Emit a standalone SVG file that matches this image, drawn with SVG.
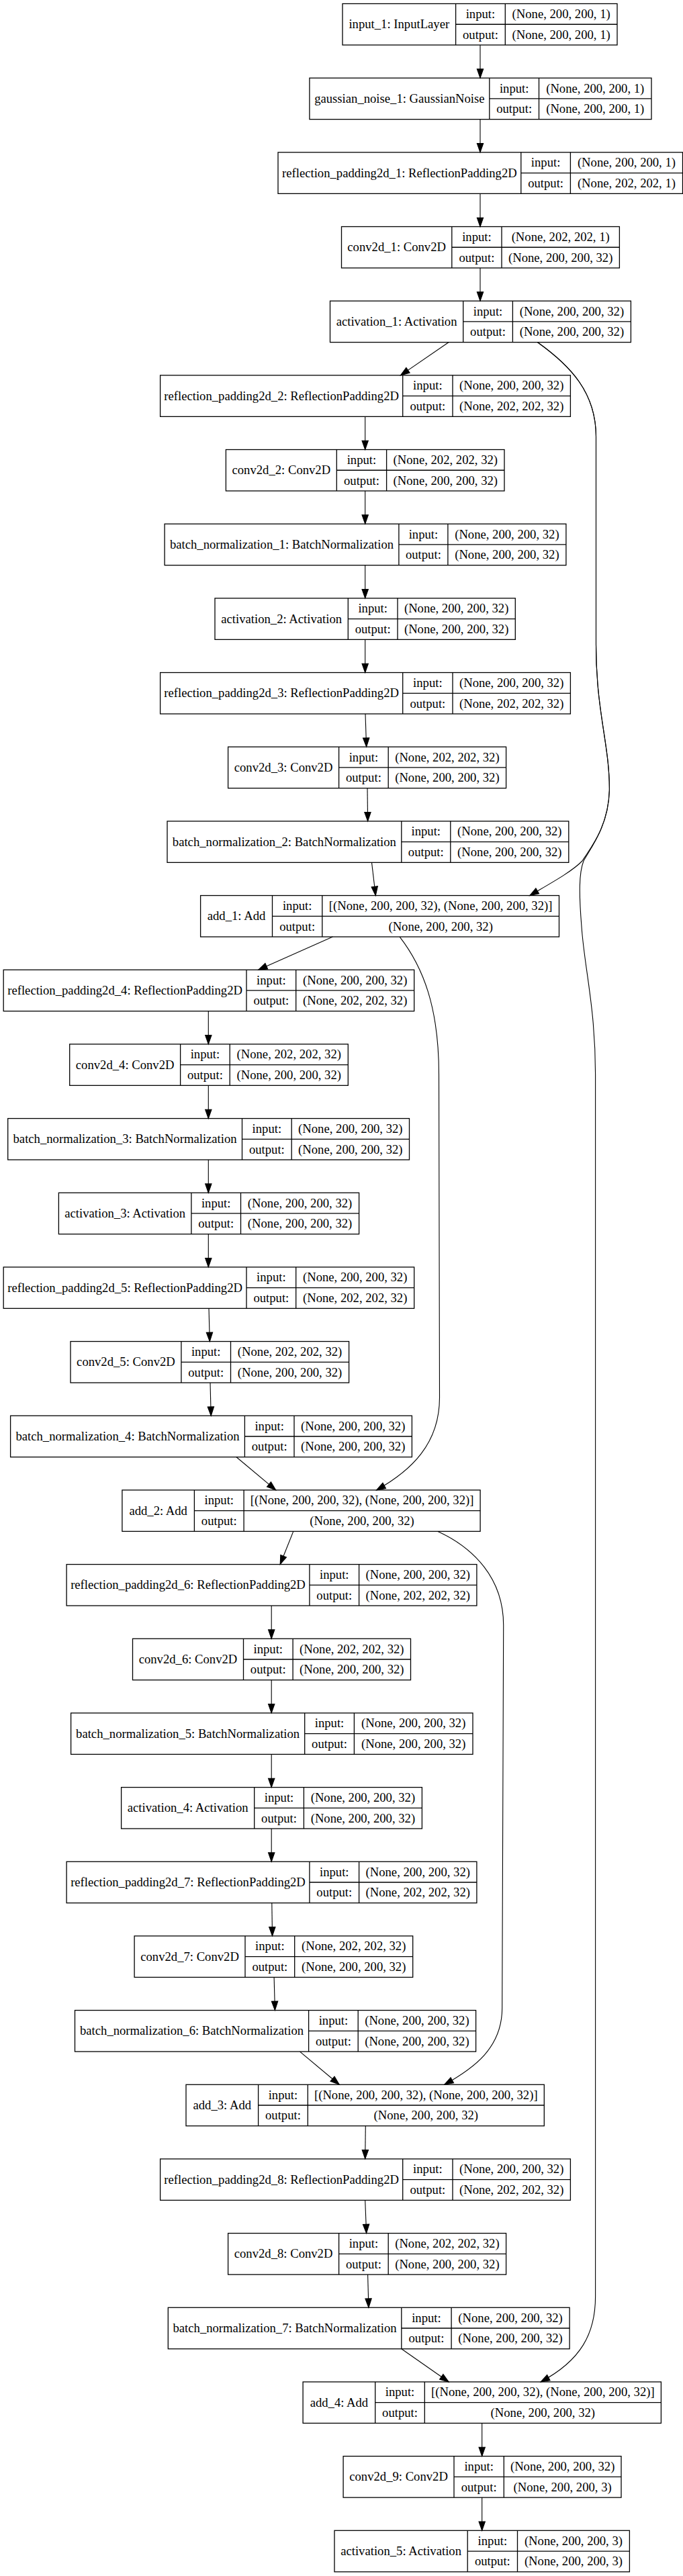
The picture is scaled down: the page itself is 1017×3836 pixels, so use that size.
<svg xmlns="http://www.w3.org/2000/svg" width="1017" height="3836" viewBox="0 0 1017 3836">
<style>
.n rect{fill:none;stroke:#000;stroke-width:1.3}
.n path{fill:none;stroke:#000;stroke-width:1.3}
.n text{font-family:"Liberation Serif","Times New Roman",serif;font-size:18.67px;text-anchor:middle;fill:#000}
#edges path{fill:none;stroke:#000;stroke-width:1.1;marker-end:url(#ah)}
</style>
<defs>
<marker id="ah" markerUnits="userSpaceOnUse" markerWidth="16" markerHeight="12" refX="13.33" refY="4.67" orient="auto" overflow="visible">
<path d="M0,0 L13.33,4.67 L0,9.33 Z" fill="#000" stroke="#000" stroke-width="1.1"/>
</marker>
</defs>
<rect x="0" y="0" width="1017" height="3836" fill="#fff"/>
<g id="edges">
<path d="M715,67 L715,116.17"/>
<path d="M715,177.67 L715,226.84"/>
<path d="M715,288.34 L715,337.51"/>
<path d="M715,399.01 L715,448.18"/>
<path d="M668,509.68 L596.5,558.85"/>
<path d="M800.5,509.68 C850,545 887.5,585 887.5,650 L887.5,960 C887.5,1060 908,1110 907.4,1177 C906,1230 880,1262 867,1282 C852,1298 815,1318 788.8,1333.54"/>
<path d="M800.5,509.68 C850,545 887.5,585 887.5,650 L887.5,960 C887.5,1060 908,1110 907.4,1177 C906,1230 880,1262 869,1282 C862,1300 862,1330 866,1380 C870,1440 886.6,1500 886.6,1600 L886.6,3420 C886.6,3475 865,3515 805.1,3546.94"/>
<path d="M543.7,620.35 L543.7,669.52"/>
<path d="M543.7,731.02 L543.7,780.19"/>
<path d="M543.7,841.69 L543.7,890.86"/>
<path d="M543.7,952.36 L543.7,1001.53"/>
<path d="M544,1063.03 L545.6,1112.2"/>
<path d="M547,1173.7 L547.6,1222.87"/>
<path d="M553.5,1284.37 L559.3,1333.54"/>
<path d="M495.4,1395.04 L384.6,1444.21"/>
<path d="M595.2,1395.04 C630,1440 653.5,1500 653.5,1600 L654.5,2080 C655,2150 612,2190 560.6,2218.9"/>
<path d="M310.3,1505.71 L310.3,1554.88"/>
<path d="M310.3,1616.38 L310.3,1665.55"/>
<path d="M310.3,1727.05 L310.3,1776.22"/>
<path d="M310.3,1837.72 L310.3,1886.89"/>
<path d="M311,1948.39 L312.3,1997.56"/>
<path d="M313,2059.06 L314.2,2108.23"/>
<path d="M352,2169.73 L410.7,2218.9"/>
<path d="M436.8,2280.4 L417.2,2329.57"/>
<path d="M651.9,2280.4 C705,2305 749.7,2350 749.7,2420 L747.7,2990 C747.7,3050 705,3080 661.7,3104.26"/>
<path d="M404.2,2391.07 L404.2,2440.24"/>
<path d="M404.2,2501.74 L404.2,2550.91"/>
<path d="M404.2,2612.41 L404.2,2661.58"/>
<path d="M404.2,2723.08 L404.2,2772.25"/>
<path d="M404.8,2833.75 L405.5,2882.92"/>
<path d="M408.1,2944.42 L409.4,2993.59"/>
<path d="M446.5,3055.09 L505.2,3104.26"/>
<path d="M544.3,3165.76 L543.7,3214.93"/>
<path d="M543.7,3276.43 L545.6,3325.6"/>
<path d="M547.6,3387.1 L548.9,3436.27"/>
<path d="M597.8,3497.77 L668.2,3546.94"/>
<path d="M717.7,3608.44 L717.7,3657.61"/>
<path d="M717.7,3719.11 L717.7,3768.28"/>
</g>

<g id="input_1" class="n" transform="translate(0,5.5)">
<rect x="510" y="0" width="409" height="61.5"/>
<path d="M678.6,0V61.5M752.3,0V61.5M678.6,30.75H919"/>
<text x="594.3" y="36.75">input_1: InputLayer</text>
<text x="715.45" y="21.4">input:</text><text x="715.45" y="52.1">output:</text>
<text x="835.65" y="21.4">(None, 200, 200, 1)</text><text x="835.65" y="52.1">(None, 200, 200, 1)</text>
</g>

<g id="gaussian_noise_1" class="n" transform="translate(0,116.17)">
<rect x="460.9" y="0" width="509.1" height="61.5"/>
<path d="M728.8,0V61.5M802.5,0V61.5M728.8,30.75H970"/>
<text x="594.85" y="36.75">gaussian_noise_1: GaussianNoise</text>
<text x="765.65" y="21.4">input:</text><text x="765.65" y="52.1">output:</text>
<text x="886.25" y="21.4">(None, 200, 200, 1)</text><text x="886.25" y="52.1">(None, 200, 200, 1)</text>
</g>

<g id="reflection_padding2d_1" class="n" transform="translate(0,226.84)">
<rect x="414" y="0" width="602.5" height="61.5"/>
<path d="M775.8,0V61.5M849.4,0V61.5M775.8,30.75H1016.5"/>
<text x="594.9" y="36.75">reflection_padding2d_1: ReflectionPadding2D</text>
<text x="812.6" y="21.4">input:</text><text x="812.6" y="52.1">output:</text>
<text x="932.95" y="21.4">(None, 200, 200, 1)</text><text x="932.95" y="52.1">(None, 202, 202, 1)</text>
</g>

<g id="conv2d_1" class="n" transform="translate(0,337.51)">
<rect x="508.5" y="0" width="413.9" height="61.5"/>
<path d="M672.8,0V61.5M747,0V61.5M672.8,30.75H922.4"/>
<text x="590.65" y="36.75">conv2d_1: Conv2D</text>
<text x="709.9" y="21.4">input:</text><text x="709.9" y="52.1">output:</text>
<text x="834.7" y="21.4">(None, 202, 202, 1)</text><text x="834.7" y="52.1">(None, 200, 200, 32)</text>
</g>

<g id="activation_1" class="n" transform="translate(0,448.18)">
<rect x="491.5" y="0" width="447.9" height="61.5"/>
<path d="M689.7,0V61.5M763.4,0V61.5M689.7,30.75H939.4"/>
<text x="590.6" y="36.75">activation_1: Activation</text>
<text x="726.55" y="21.4">input:</text><text x="726.55" y="52.1">output:</text>
<text x="851.4" y="21.4">(None, 200, 200, 32)</text><text x="851.4" y="52.1">(None, 200, 200, 32)</text>
</g>

<g id="reflection_padding2d_2" class="n" transform="translate(0,558.85)">
<rect x="238.6" y="0" width="610.8" height="61.5"/>
<path d="M599.7,0V61.5M674,0V61.5M599.7,30.75H849.4"/>
<text x="419.15" y="36.75">reflection_padding2d_2: ReflectionPadding2D</text>
<text x="636.85" y="21.4">input:</text><text x="636.85" y="52.1">output:</text>
<text x="761.7" y="21.4">(None, 200, 200, 32)</text><text x="761.7" y="52.1">(None, 202, 202, 32)</text>
</g>

<g id="conv2d_2" class="n" transform="translate(0,669.52)">
<rect x="336.4" y="0" width="414.6" height="61.5"/>
<path d="M501.3,0V61.5M575.6,0V61.5M501.3,30.75H751"/>
<text x="418.85" y="36.75">conv2d_2: Conv2D</text>
<text x="538.45" y="21.4">input:</text><text x="538.45" y="52.1">output:</text>
<text x="663.3" y="21.4">(None, 202, 202, 32)</text><text x="663.3" y="52.1">(None, 200, 200, 32)</text>
</g>

<g id="batch_normalization_1" class="n" transform="translate(0,780.19)">
<rect x="245.1" y="0" width="597.8" height="61.5"/>
<path d="M593.9,0V61.5M666.9,0V61.5M593.9,30.75H842.9"/>
<text x="419.5" y="36.75">batch_normalization_1: BatchNormalization</text>
<text x="630.4" y="21.4">input:</text><text x="630.4" y="52.1">output:</text>
<text x="754.9" y="21.4">(None, 200, 200, 32)</text><text x="754.9" y="52.1">(None, 200, 200, 32)</text>
</g>

<g id="activation_2" class="n" transform="translate(0,890.86)">
<rect x="320" y="0" width="447.3" height="61.5"/>
<path d="M518.3,0V61.5M592,0V61.5M518.3,30.75H767.3"/>
<text x="419.15" y="36.75">activation_2: Activation</text>
<text x="555.15" y="21.4">input:</text><text x="555.15" y="52.1">output:</text>
<text x="679.65" y="21.4">(None, 200, 200, 32)</text><text x="679.65" y="52.1">(None, 200, 200, 32)</text>
</g>

<g id="reflection_padding2d_3" class="n" transform="translate(0,1001.53)">
<rect x="238.6" y="0" width="610.8" height="61.5"/>
<path d="M599.7,0V61.5M674,0V61.5M599.7,30.75H849.4"/>
<text x="419.15" y="36.75">reflection_padding2d_3: ReflectionPadding2D</text>
<text x="636.85" y="21.4">input:</text><text x="636.85" y="52.1">output:</text>
<text x="761.7" y="21.4">(None, 200, 200, 32)</text><text x="761.7" y="52.1">(None, 202, 202, 32)</text>
</g>

<g id="conv2d_3" class="n" transform="translate(0,1112.2)">
<rect x="339.6" y="0" width="414" height="61.5"/>
<path d="M504.6,0V61.5M578.2,0V61.5M504.6,30.75H753.6"/>
<text x="422.1" y="36.75">conv2d_3: Conv2D</text>
<text x="541.4" y="21.4">input:</text><text x="541.4" y="52.1">output:</text>
<text x="665.9" y="21.4">(None, 202, 202, 32)</text><text x="665.9" y="52.1">(None, 200, 200, 32)</text>
</g>

<g id="batch_normalization_2" class="n" transform="translate(0,1222.87)">
<rect x="249" y="0" width="597.8" height="61.5"/>
<path d="M597.8,0V61.5M670.8,0V61.5M597.8,30.75H846.8"/>
<text x="423.4" y="36.75">batch_normalization_2: BatchNormalization</text>
<text x="634.3" y="21.4">input:</text><text x="634.3" y="52.1">output:</text>
<text x="758.8" y="21.4">(None, 200, 200, 32)</text><text x="758.8" y="52.1">(None, 200, 200, 32)</text>
</g>

<g id="add_1" class="n" transform="translate(0,1333.54)">
<rect x="298.6" y="0" width="533.9" height="61.5"/>
<path d="M405.5,0V61.5M479.8,0V61.5M405.5,30.75H832.5"/>
<text x="352.05" y="36.75">add_1: Add</text>
<text x="442.65" y="21.4">input:</text><text x="442.65" y="52.1">output:</text>
<text x="656.15" y="21.4">[(None, 200, 200, 32), (None, 200, 200, 32)]</text><text x="656.15" y="52.1">(None, 200, 200, 32)</text>
</g>

<g id="reflection_padding2d_4" class="n" transform="translate(0,1444.21)">
<rect x="5.2" y="0" width="611.5" height="61.5"/>
<path d="M367,0V61.5M440.7,0V61.5M367,30.75H616.7"/>
<text x="186.1" y="36.75">reflection_padding2d_4: ReflectionPadding2D</text>
<text x="403.85" y="21.4">input:</text><text x="403.85" y="52.1">output:</text>
<text x="528.7" y="21.4">(None, 200, 200, 32)</text><text x="528.7" y="52.1">(None, 202, 202, 32)</text>
</g>

<g id="conv2d_4" class="n" transform="translate(0,1554.88)">
<rect x="103.7" y="0" width="414.6" height="61.5"/>
<path d="M268.6,0V61.5M342.2,0V61.5M268.6,30.75H518.3"/>
<text x="186.15" y="36.75">conv2d_4: Conv2D</text>
<text x="305.4" y="21.4">input:</text><text x="305.4" y="52.1">output:</text>
<text x="430.25" y="21.4">(None, 202, 202, 32)</text><text x="430.25" y="52.1">(None, 200, 200, 32)</text>
</g>

<g id="batch_normalization_3" class="n" transform="translate(0,1665.55)">
<rect x="11.7" y="0" width="597.8" height="61.5"/>
<path d="M360.5,0V61.5M434.2,0V61.5M360.5,30.75H609.5"/>
<text x="186.1" y="36.75">batch_normalization_3: BatchNormalization</text>
<text x="397.35" y="21.4">input:</text><text x="397.35" y="52.1">output:</text>
<text x="521.85" y="21.4">(None, 200, 200, 32)</text><text x="521.85" y="52.1">(None, 200, 200, 32)</text>
</g>

<g id="activation_3" class="n" transform="translate(0,1776.22)">
<rect x="87.4" y="0" width="447.2" height="61.5"/>
<path d="M284.9,0V61.5M358.5,0V61.5M284.9,30.75H534.6"/>
<text x="186.15" y="36.75">activation_3: Activation</text>
<text x="321.7" y="21.4">input:</text><text x="321.7" y="52.1">output:</text>
<text x="446.55" y="21.4">(None, 200, 200, 32)</text><text x="446.55" y="52.1">(None, 200, 200, 32)</text>
</g>

<g id="reflection_padding2d_5" class="n" transform="translate(0,1886.89)">
<rect x="5.2" y="0" width="611.5" height="61.5"/>
<path d="M367,0V61.5M440.7,0V61.5M367,30.75H616.7"/>
<text x="186.1" y="36.75">reflection_padding2d_5: ReflectionPadding2D</text>
<text x="403.85" y="21.4">input:</text><text x="403.85" y="52.1">output:</text>
<text x="528.7" y="21.4">(None, 200, 200, 32)</text><text x="528.7" y="52.1">(None, 202, 202, 32)</text>
</g>

<g id="conv2d_5" class="n" transform="translate(0,1997.56)">
<rect x="105" y="0" width="414.6" height="61.5"/>
<path d="M269.9,0V61.5M343.5,0V61.5M269.9,30.75H519.6"/>
<text x="187.45" y="36.75">conv2d_5: Conv2D</text>
<text x="306.7" y="21.4">input:</text><text x="306.7" y="52.1">output:</text>
<text x="431.55" y="21.4">(None, 202, 202, 32)</text><text x="431.55" y="52.1">(None, 200, 200, 32)</text>
</g>

<g id="batch_normalization_4" class="n" transform="translate(0,2108.23)">
<rect x="15.6" y="0" width="597.8" height="61.5"/>
<path d="M364.4,0V61.5M438,0V61.5M364.4,30.75H613.4"/>
<text x="190" y="36.75">batch_normalization_4: BatchNormalization</text>
<text x="401.2" y="21.4">input:</text><text x="401.2" y="52.1">output:</text>
<text x="525.7" y="21.4">(None, 200, 200, 32)</text><text x="525.7" y="52.1">(None, 200, 200, 32)</text>
</g>

<g id="add_2" class="n" transform="translate(0,2218.9)">
<rect x="181.9" y="0" width="533.2" height="61.5"/>
<path d="M289.4,0V61.5M363.1,0V61.5M289.4,30.75H715.1"/>
<text x="235.65" y="36.75">add_2: Add</text>
<text x="326.25" y="21.4">input:</text><text x="326.25" y="52.1">output:</text>
<text x="539.1" y="21.4">[(None, 200, 200, 32), (None, 200, 200, 32)]</text><text x="539.1" y="52.1">(None, 200, 200, 32)</text>
</g>

<g id="reflection_padding2d_6" class="n" transform="translate(0,2329.57)">
<rect x="99.1" y="0" width="610.8" height="61.5"/>
<path d="M460.9,0V61.5M534.6,0V61.5M460.9,30.75H709.9"/>
<text x="280" y="36.75">reflection_padding2d_6: ReflectionPadding2D</text>
<text x="497.75" y="21.4">input:</text><text x="497.75" y="52.1">output:</text>
<text x="622.25" y="21.4">(None, 200, 200, 32)</text><text x="622.25" y="52.1">(None, 202, 202, 32)</text>
</g>

<g id="conv2d_6" class="n" transform="translate(0,2440.24)">
<rect x="197.5" y="0" width="414" height="61.5"/>
<path d="M362.5,0V61.5M436.1,0V61.5M362.5,30.75H611.5"/>
<text x="280" y="36.75">conv2d_6: Conv2D</text>
<text x="399.3" y="21.4">input:</text><text x="399.3" y="52.1">output:</text>
<text x="523.8" y="21.4">(None, 202, 202, 32)</text><text x="523.8" y="52.1">(None, 200, 200, 32)</text>
</g>

<g id="batch_normalization_5" class="n" transform="translate(0,2550.91)">
<rect x="105.6" y="0" width="598.4" height="61.5"/>
<path d="M453.7,0V61.5M527.4,0V61.5M453.7,30.75H704"/>
<text x="279.65" y="36.75">batch_normalization_5: BatchNormalization</text>
<text x="490.55" y="21.4">input:</text><text x="490.55" y="52.1">output:</text>
<text x="615.7" y="21.4">(None, 200, 200, 32)</text><text x="615.7" y="52.1">(None, 200, 200, 32)</text>
</g>

<g id="activation_4" class="n" transform="translate(0,2661.58)">
<rect x="180.6" y="0" width="447.8" height="61.5"/>
<path d="M378.7,0V61.5M452.4,0V61.5M378.7,30.75H628.4"/>
<text x="279.65" y="36.75">activation_4: Activation</text>
<text x="415.55" y="21.4">input:</text><text x="415.55" y="52.1">output:</text>
<text x="540.4" y="21.4">(None, 200, 200, 32)</text><text x="540.4" y="52.1">(None, 200, 200, 32)</text>
</g>

<g id="reflection_padding2d_7" class="n" transform="translate(0,2772.25)">
<rect x="99.1" y="0" width="610.8" height="61.5"/>
<path d="M460.9,0V61.5M534.6,0V61.5M460.9,30.75H709.9"/>
<text x="280" y="36.75">reflection_padding2d_7: ReflectionPadding2D</text>
<text x="497.75" y="21.4">input:</text><text x="497.75" y="52.1">output:</text>
<text x="622.25" y="21.4">(None, 200, 200, 32)</text><text x="622.25" y="52.1">(None, 202, 202, 32)</text>
</g>

<g id="conv2d_7" class="n" transform="translate(0,2882.92)">
<rect x="200.1" y="0" width="414.6" height="61.5"/>
<path d="M365,0V61.5M438.7,0V61.5M365,30.75H614.7"/>
<text x="282.55" y="36.75">conv2d_7: Conv2D</text>
<text x="401.85" y="21.4">input:</text><text x="401.85" y="52.1">output:</text>
<text x="526.7" y="21.4">(None, 202, 202, 32)</text><text x="526.7" y="52.1">(None, 200, 200, 32)</text>
</g>

<g id="batch_normalization_6" class="n" transform="translate(0,2993.59)">
<rect x="111.5" y="0" width="597.1" height="61.5"/>
<path d="M459.6,0V61.5M533.2,0V61.5M459.6,30.75H708.6"/>
<text x="285.55" y="36.75">batch_normalization_6: BatchNormalization</text>
<text x="496.4" y="21.4">input:</text><text x="496.4" y="52.1">output:</text>
<text x="620.9" y="21.4">(None, 200, 200, 32)</text><text x="620.9" y="52.1">(None, 200, 200, 32)</text>
</g>

<g id="add_3" class="n" transform="translate(0,3104.26)">
<rect x="277" y="0" width="533.3" height="61.5"/>
<path d="M384.6,0V61.5M458.3,0V61.5M384.6,30.75H810.3"/>
<text x="330.8" y="36.75">add_3: Add</text>
<text x="421.45" y="21.4">input:</text><text x="421.45" y="52.1">output:</text>
<text x="634.3" y="21.4">[(None, 200, 200, 32), (None, 200, 200, 32)]</text><text x="634.3" y="52.1">(None, 200, 200, 32)</text>
</g>

<g id="reflection_padding2d_8" class="n" transform="translate(0,3214.93)">
<rect x="238.6" y="0" width="610.8" height="61.5"/>
<path d="M599.7,0V61.5M674,0V61.5M599.7,30.75H849.4"/>
<text x="419.15" y="36.75">reflection_padding2d_8: ReflectionPadding2D</text>
<text x="636.85" y="21.4">input:</text><text x="636.85" y="52.1">output:</text>
<text x="761.7" y="21.4">(None, 200, 200, 32)</text><text x="761.7" y="52.1">(None, 202, 202, 32)</text>
</g>

<g id="conv2d_8" class="n" transform="translate(0,3325.6)">
<rect x="339.6" y="0" width="414" height="61.5"/>
<path d="M504.6,0V61.5M578.2,0V61.5M504.6,30.75H753.6"/>
<text x="422.1" y="36.75">conv2d_8: Conv2D</text>
<text x="541.4" y="21.4">input:</text><text x="541.4" y="52.1">output:</text>
<text x="665.9" y="21.4">(None, 202, 202, 32)</text><text x="665.9" y="52.1">(None, 200, 200, 32)</text>
</g>

<g id="batch_normalization_7" class="n" transform="translate(0,3436.27)">
<rect x="250.3" y="0" width="597.8" height="61.5"/>
<path d="M597.8,0V61.5M672.1,0V61.5M597.8,30.75H848.1"/>
<text x="424.05" y="36.75">batch_normalization_7: BatchNormalization</text>
<text x="634.95" y="21.4">input:</text><text x="634.95" y="52.1">output:</text>
<text x="760.1" y="21.4">(None, 200, 200, 32)</text><text x="760.1" y="52.1">(None, 200, 200, 32)</text>
</g>

<g id="add_4" class="n" transform="translate(0,3546.94)">
<rect x="451.1" y="0" width="533.3" height="61.5"/>
<path d="M558.7,0V61.5M632.3,0V61.5M558.7,30.75H984.4"/>
<text x="504.9" y="36.75">add_4: Add</text>
<text x="595.5" y="21.4">input:</text><text x="595.5" y="52.1">output:</text>
<text x="808.35" y="21.4">[(None, 200, 200, 32), (None, 200, 200, 32)]</text><text x="808.35" y="52.1">(None, 200, 200, 32)</text>
</g>

<g id="conv2d_9" class="n" transform="translate(0,3657.61)">
<rect x="511.1" y="0" width="413.9" height="61.5"/>
<path d="M676,0V61.5M750.3,0V61.5M676,30.75H925"/>
<text x="593.55" y="36.75">conv2d_9: Conv2D</text>
<text x="713.15" y="21.4">input:</text><text x="713.15" y="52.1">output:</text>
<text x="837.65" y="21.4">(None, 200, 200, 32)</text><text x="837.65" y="52.1">(None, 200, 200, 3)</text>
</g>

<g id="activation_5" class="n" transform="translate(0,3768.28)">
<rect x="498" y="0" width="439.4" height="61.5"/>
<path d="M696.2,0V61.5M770.5,0V61.5M696.2,30.75H937.4"/>
<text x="597.1" y="36.75">activation_5: Activation</text>
<text x="733.35" y="21.4">input:</text><text x="733.35" y="52.1">output:</text>
<text x="853.95" y="21.4">(None, 200, 200, 3)</text><text x="853.95" y="52.1">(None, 200, 200, 3)</text>
</g>
</svg>
